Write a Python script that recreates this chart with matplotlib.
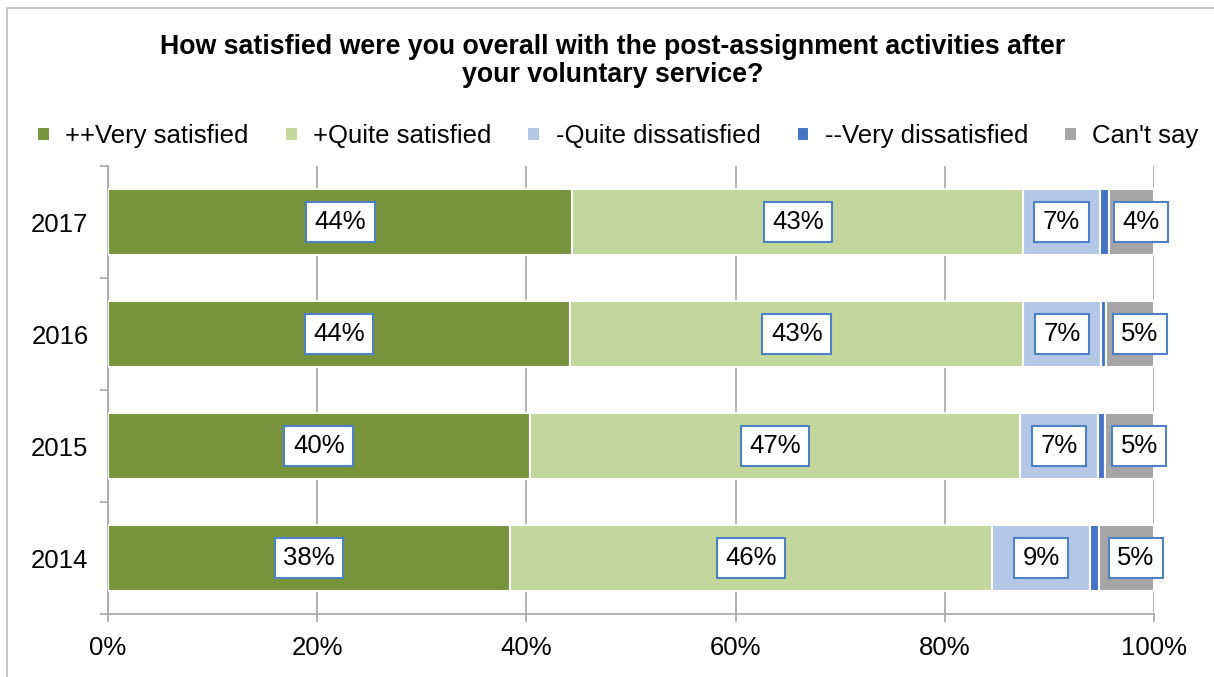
import numpy as np
import matplotlib.pyplot as plt
from matplotlib.patches import Rectangle

plt.rcParams['font.family'] = ['Liberation Sans', 'DejaVu Sans']

# survey results, share of respondents (%)
years = ['2017', '2016', '2015', '2014']
very_satisfied = [44.4, 44.2, 40.3, 38.4]
quite_satisfied = [43.1, 43.3, 46.9, 46.1]
quite_dissatisfied = [7.3, 7.4, 7.4, 9.4]
very_dissatisfied = [0.9, 0.5, 0.7, 0.8]
cant_say = [4.3, 4.6, 4.7, 5.3]

# name, values, colour, label shown, label shift right (pt)
series = [
    ('++Very satisfied', very_satisfied, '#77933C', True, 0),
    ('+Quite satisfied', quite_satisfied, '#C3D69B', True, 0),
    ('-Quite dissatisfied', quite_dissatisfied, '#B4C7E7', True, 0),
    ('--Very dissatisfied', very_dissatisfied, '#4472C4', False, 0),
    ("Can't say", cant_say, '#A5A5A5', True, 7),
]

FS = 18.5

fig = plt.figure(figsize=(12.14, 6.77), dpi=100)
ax = fig.add_axes([108 / 1214, 63 / 677, 1046 / 1214, 448 / 677])

# outer chart frame
fig.patches.append(Rectangle((7 / 1214, -0.05), 1.2, (677 - 8) / 677 + 0.05,
                             transform=fig.transFigure, fill=False,
                             edgecolor='#BFBFBF', linewidth=1.2, zorder=0))

ypos = np.arange(len(years))[::-1]
left = np.zeros(len(years))
for name, vals, col, show, shift in series:
    vals = np.array(vals)
    ax.barh(ypos, vals, left=left, height=0.59, color=col, label=name,
            edgecolor='white', linewidth=1.5, zorder=3)
    if show:
        for y, l, v in zip(ypos, left, vals):
            ax.annotate(f'{v:.0f}%', (l + v / 2, y), xytext=(shift, 0),
                        textcoords='offset points', ha='center', va='center',
                        fontsize=FS, zorder=5, annotation_clip=False,
                        bbox=dict(boxstyle='square,pad=0.33', facecolor='white',
                                  edgecolor='#4F81C7', linewidth=1.5))
    left += vals

ax.set_xlim(0, 100)
ax.set_ylim(-0.5, len(years) - 0.5)
ax.set_xticks(np.arange(0, 101, 20))
ax.set_xticklabels([f'{t}%' for t in range(0, 101, 20)])
ax.set_yticks(ypos)
ax.set_yticklabels(years)
ax.set_yticks(np.arange(-0.5, len(years)), minor=True)
ax.tick_params(axis='y', which='major', length=0, pad=14, labelsize=FS)
ax.tick_params(axis='y', which='minor', length=6, color='#A6A6A6', width=1.2)
ax.tick_params(axis='x', length=6, color='#A6A6A6', width=1.2, pad=10,
               labelsize=FS)
ax.grid(axis='x', color='#A6A6A6', linewidth=1.2, zorder=0)
ax.set_axisbelow(True)
for s in ['top', 'right']:
    ax.spines[s].set_visible(False)
for s in ['left', 'bottom']:
    ax.spines[s].set_color('#A6A6A6')
    ax.spines[s].set_linewidth(1.2)

fig.text(0.505, 1 - 61 / 677, 'How satisfied were you overall with the post-assignment activities after\nyour voluntary service?',
         ha='center', va='center', fontsize=19.3, fontweight='bold',
         linespacing=1.12)

fig.legend(loc='center', bbox_to_anchor=(0.509, 1 - 136 / 677), ncol=5,
           frameon=False, fontsize=FS, handlelength=0.5, handleheight=0.5,
           handletextpad=0.6, columnspacing=1.4)

fig.savefig('out.png', dpi=100)
